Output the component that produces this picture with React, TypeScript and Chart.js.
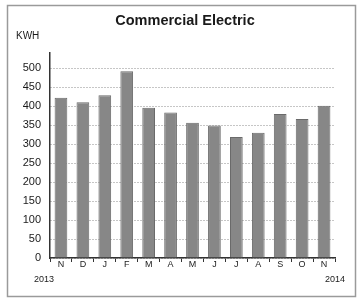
import React, { useEffect, useRef } from "react";
import { Chart, registerables } from "chart.js";

Chart.register(...registerables);

const months = ["N", "D", "J", "F", "M", "A", "M", "J", "J", "A", "S", "O", "N"];
const kwh = [422, 410, 429, 492, 396, 383, 356, 349, 319, 330, 379, 366, 401];
const startYear = "2013";
const endYear = "2014";
const titleText = "Commercial Electric";
const unitText = "KWH";

const FONT = "'Liberation Sans', Arial, sans-serif";

const decor = {
  id: "decor",
  beforeDraw(chart: any) {
    const ctx = chart.ctx;
    ctx.save();
    ctx.fillStyle = "#ffffff";
    ctx.fillRect(0, 0, chart.width, chart.height);
    ctx.strokeStyle = "#9a9a9a";
    ctx.lineWidth = 1.5;
    ctx.strokeRect(7.5, 5.5, 348, 291);
    ctx.restore();
  },
  afterDraw(chart: any) {
    const ctx = chart.ctx;
    const x = chart.scales.x;
    ctx.save();
    ctx.fillStyle = "#1a1a1a";
    ctx.textBaseline = "middle";
    ctx.font = `bold 14.5px ${FONT}`;
    ctx.textAlign = "center";
    ctx.fillText(titleText, 185, 21);
    ctx.font = `10px ${FONT}`;
    ctx.textAlign = "left";
    ctx.fillText(unitText, 16, 36);
    ctx.font = `9px ${FONT}`;
    ctx.textAlign = "center";
    ctx.fillText(startYear, x.getPixelForValue(0) - 17, 280);
    ctx.fillText(endYear, x.getPixelForValue(months.length - 1) + 11, 280);
    ctx.restore();
  },
};

export default function App() {
  const ref = useRef<HTMLCanvasElement>(null);
  useEffect(() => {
    const chart = new Chart(ref.current as HTMLCanvasElement, {
      type: "bar",
      data: {
        labels: months,
        datasets: [
          {
            data: kwh,
            backgroundColor: "#878787",
            borderColor: "#6a6a6a",
            borderWidth: 1,
            categoryPercentage: 1,
            barPercentage: 0.58,
          },
        ],
      },
      options: {
        animation: false,
        responsive: false,
        layout: { padding: { top: 53, right: 27, bottom: 19, left: 0 } },
        plugins: {
          legend: { display: false },
          title: { display: false },
          tooltip: { enabled: false },
        },
        scales: {
          x: {
            afterFit: (s: any) => {
              s.height = 22;
            },
            grid: {
              offset: true,
              drawOnChartArea: false,
              drawTicks: true,
              tickLength: 4,
              color: "#333",
            },
            border: { display: true, color: "#333", width: 1.5 },
            ticks: {
              padding: -3,
              color: "#1a1a1a",
              font: { family: FONT, size: 9 },
              maxRotation: 0,
              autoSkip: false,
            },
          },
          y: {
            min: 0,
            max: 540,
            afterFit: (s: any) => {
              s.width = 50;
            },
            afterBuildTicks: (s: any) => {
              s.ticks = s.ticks.filter((t: any) => t.value % 50 === 0);
            },
            grid: {
              drawTicks: false,
              color: "#8c8c8c",
              lineWidth: 1,
            },
            border: { display: true, color: "#333", width: 1.5, dash: [1, 2] },
            ticks: {
              stepSize: 50,
              padding: 9,
              color: "#1a1a1a",
              font: { family: FONT, size: 11 },
            },
          },
        },
      },
      plugins: [decor],
    } as any);
    return () => chart.destroy();
  }, []);
  return (
    <div style={{ position: "fixed", left: 0, top: 0, width: 362, height: 299, background: "#fff" }}>
      <canvas ref={ref} width={362} height={299} style={{ display: "block" }} />
    </div>
  );
}
